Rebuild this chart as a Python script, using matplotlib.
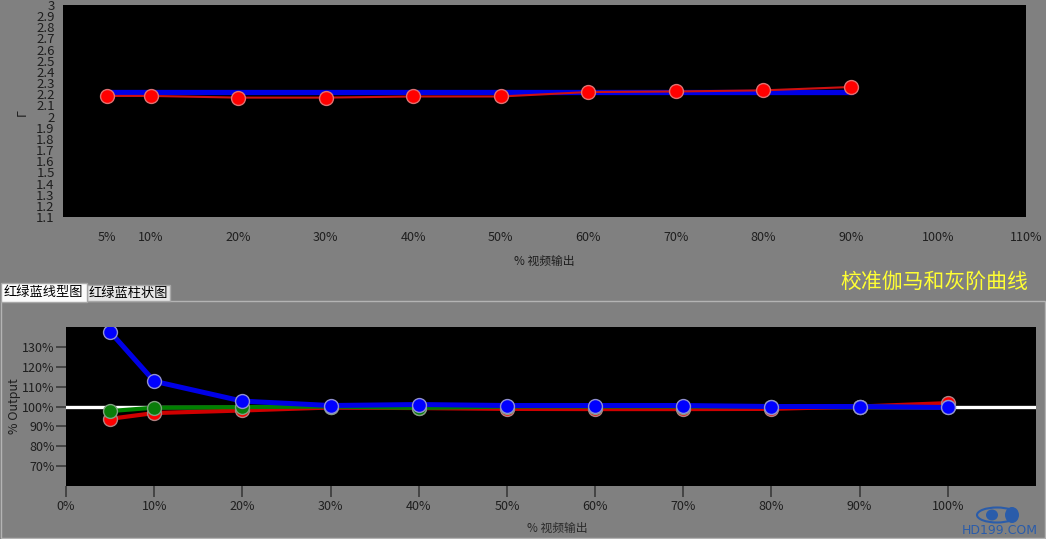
import matplotlib
matplotlib.use("Agg")
import matplotlib.pyplot as plt
from matplotlib.patches import Rectangle, Ellipse

plt.rcParams['font.family'] = ['Noto Sans CJK SC', 'DejaVu Sans']

# --- gamma panel data ---
gamma_x = [5, 10, 20, 30, 40, 50, 60, 70, 80, 90]
gamma_measured = [2.185, 2.185, 2.17, 2.17, 2.18, 2.18, 2.22, 2.225, 2.235, 2.265]
gamma_target = [2.22, 2.22, 2.22, 2.22, 2.22, 2.22, 2.22, 2.22, 2.22, 2.22]
gamma_xticks = [5, 10, 20, 30, 40, 50, 60, 70, 80, 90, 100, 110]
gamma_yticks = [1.1, 1.2, 1.3, 1.4, 1.5, 1.6, 1.7, 1.8, 1.9, 2, 2.1, 2.2, 2.3, 2.4,
                2.5, 2.6, 2.7, 2.8, 2.9, 3]

# --- RGB balance panel data ---
rgb_x = [5, 10, 20, 30, 40, 50, 60, 70, 80, 90, 100]
red_out = [93.8, 96.7, 98.0, 99.5, 99.2, 98.8, 98.7, 98.7, 98.8, 100.0, 101.7]
green_out = [97.7, 99.4, 99.7, 100.0, 99.3, 100.0, 100.0, 100.0, 100.0, 100.0, 99.6]
blue_out = [137.6, 112.7, 102.7, 100.5, 101.0, 100.5, 100.5, 100.5, 100.0, 100.0, 99.5]
rgb_xticks = [0, 10, 20, 30, 40, 50, 60, 70, 80, 90, 100]
rgb_yticks = [70, 80, 90, 100, 110, 120, 130]

BG = "#808080"
TXT = "#1e1e1e"

fig = plt.figure(figsize=(10.46, 5.39), dpi=100, facecolor=BG)

# top: gamma
ax1 = fig.add_axes([63 / 1046, 1 - 217 / 539, 963 / 1046, 212 / 539])
ax1.set_facecolor("black")
ax1.plot(gamma_x, gamma_target, color="#0000e6", lw=3.8, zorder=2)
ax1.plot(gamma_x, gamma_measured, color="#d01010", lw=1.5, marker="o", ms=10,
         mfc="#ff0000", mec="#e07070", mew=1, zorder=3)
ax1.set_xlim(0, 110)
ax1.set_ylim(1.1, 3)
ax1.set_xticks(gamma_xticks)
ax1.set_xticklabels([f"{t}%" for t in gamma_xticks])
ax1.set_yticks(gamma_yticks)
ax1.set_yticklabels([f"{t:g}" for t in gamma_yticks])
ax1.tick_params(axis="x", length=0, pad=10, labelsize=9, colors=TXT)
ax1.tick_params(axis="y", length=0, pad=6, labelsize=9.5, colors=TXT)
for s in ax1.spines.values():
    s.set_visible(False)
ax1.set_xlabel("% 视频输出", fontsize=8.5, color=TXT)
ax1.xaxis.set_label_coords(0.5, -0.212)
ax1.xaxis.label.set_va("center")
ax1.set_ylabel("Γ", fontsize=9, color=TXT)
ax1.yaxis.set_label_coords(-0.0426, 0.495)
ax1.yaxis.label.set_va("center")

# tabs and panel frame
fig.patches.append(Rectangle((0.5 / 1046, 1 - 538 / 539), 1044.5 / 1046, 237 / 539,
                             transform=fig.transFigure, fill=False, ec="#b4b4b4", lw=1))
fig.patches.append(Rectangle((87 / 1046, 1 - 301 / 539), 83 / 1046, 16 / 539,
                             transform=fig.transFigure, fc="#e6e6e6", ec="#a8a8a8", lw=1))
fig.patches.append(Rectangle((0.5 / 1046, 1 - 302 / 539), 86.5 / 1046, 19 / 539,
                             transform=fig.transFigure, fc="#fbfbfb", ec="#a8a8a8", lw=1))
fig.text(43 / 1046, 1 - 292 / 539, "红绿蓝线型图", fontsize=9.5, color="black",
         ha="center", va="center")
fig.text(128 / 1046, 1 - 293 / 539, "红绿蓝柱状图", fontsize=9.5, color="black",
         ha="center", va="center")
fig.text(1028 / 1046, 1 - 282 / 539, "校准伽马和灰阶曲线", fontsize=15, color="#ffff33",
         ha="right", va="center")

# bottom: RGB balance
ax2 = fig.add_axes([66 / 1046, 1 - 486 / 539, 970 / 1046, 159 / 539])
ax2.set_facecolor("black")
ax2.axhline(100, color="white", lw=2.4, zorder=1)
ax2.plot(rgb_x, red_out, color="#d00000", lw=3, marker="o", ms=10,
         mfc="#ff0000", mec="#b08080", mew=1, zorder=2)
ax2.plot(rgb_x, green_out, color="#008000", lw=3, marker="o", ms=10,
         mfc="#0a7d0a", mec="#80a080", mew=1, zorder=3)
ax2.plot(rgb_x, blue_out, color="#0000e6", lw=3.6, marker="o", ms=10,
         mfc="#0000ff", mec="#9090d0", mew=1, zorder=4)
ax2.set_xlim(0, 110)
ax2.set_ylim(60, 140)
ax2.set_xticks(rgb_xticks)
ax2.set_xticklabels([f"{t}%" for t in rgb_xticks])
ax2.set_yticks(rgb_yticks)
ax2.set_yticklabels([f"{t}%" for t in rgb_yticks])
ax2.tick_params(axis="x", length=8, width=1.2, color="#3a3a3a", pad=2,
                labelsize=9, colors=TXT)
ax2.tick_params(axis="y", length=7, width=1.2, color="#3a3a3a", pad=1,
                labelsize=9, colors=TXT)
ax2.tick_params(axis="both", color="#3a3a3a")
for s in ax2.spines.values():
    s.set_visible(False)
ax2.set_xlabel("% 视频输出", fontsize=8.5, color="#2a2a2a", style="italic")
ax2.xaxis.set_label_coords(0.506, -0.264)
ax2.xaxis.label.set_va("center")
ax2.set_ylabel("% Output", fontsize=9, color=TXT)
ax2.yaxis.set_label_coords(-0.0526, 0.5)
ax2.yaxis.label.set_va("center")

# watermark logo
fig.patches.append(Ellipse((997 / 1046, 1 - 515 / 539), 40 / 1046, 15 / 539,
                           transform=fig.transFigure, fill=False, ec="#2a5caa", lw=1.5))
fig.patches.append(Ellipse((992 / 1046, 1 - 515 / 539), 12 / 1046, 11 / 539,
                           transform=fig.transFigure, fc="#2a5caa", ec="none"))
fig.patches.append(Ellipse((1012 / 1046, 1 - 515 / 539), 14 / 1046, 16 / 539,
                           transform=fig.transFigure, fc="#2a5caa", ec="none"))
fig.text(1000 / 1046, 1 - 531 / 539, "HD199.COM", fontsize=9, color="#2a5caa",
         ha="center", va="center", family="DejaVu Sans")

fig.savefig("out.png", dpi=100, facecolor=BG)
